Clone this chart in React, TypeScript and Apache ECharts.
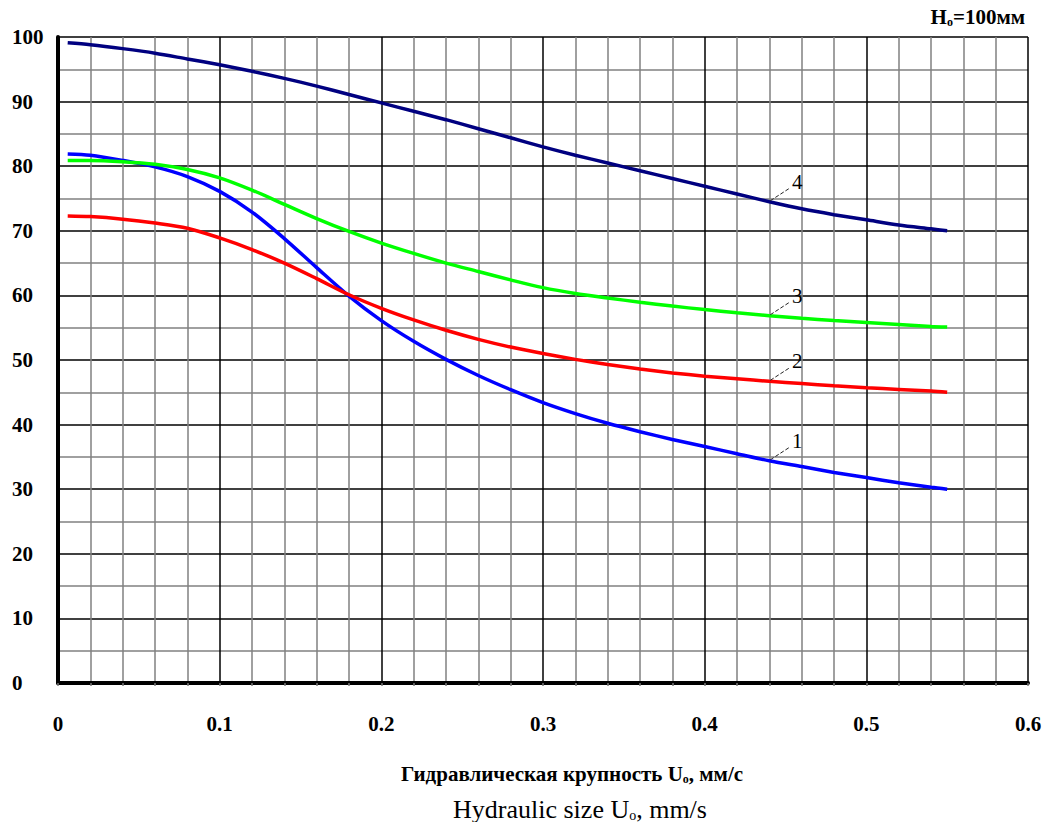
import React, { useEffect, useRef } from "react";
import * as echarts from "echarts";

// Hydraulic size U0, mm/s
const xValues = [
  0.006, 0.02, 0.04, 0.06, 0.08, 0.1, 0.12, 0.14, 0.16, 0.18, 0.2, 0.22, 0.24, 0.26, 0.28,
  0.3, 0.32, 0.34, 0.36, 0.38, 0.4, 0.42, 0.44, 0.46, 0.48, 0.5, 0.52, 0.54, 0.55,
];
// curve 1 (blue)
const curve1 = [
  81.9, 81.7, 80.9, 79.9, 78.4, 76.1, 72.9, 68.8, 64.3, 59.9, 56.1, 52.9, 50.1, 47.6, 45.4,
  43.4, 41.7, 40.2, 38.9, 37.7, 36.6, 35.5, 34.4, 33.5, 32.6, 31.8, 31.0, 30.3, 30.0,
];
// curve 2 (red)
const curve2 = [
  72.3, 72.2, 71.8, 71.2, 70.4, 68.9, 67.1, 65.0, 62.6, 60.1, 58.0, 56.2, 54.6, 53.2, 52.0,
  51.0, 50.1, 49.3, 48.6, 48.0, 47.5, 47.1, 46.7, 46.35, 46.0, 45.7, 45.45, 45.2, 45.0,
];
// curve 3 (green)
const curve3 = [
  80.9, 80.9, 80.7, 80.3, 79.5, 78.2, 76.3, 74.1, 71.9, 69.9, 68.1, 66.5, 65.0, 63.7, 62.4,
  61.2, 60.3, 59.6, 58.95, 58.35, 57.8, 57.3, 56.85, 56.45, 56.1, 55.8, 55.5, 55.2, 55.1,
];
// curve 4 (navy)
const curve4 = [
  99.1, 98.8, 98.2, 97.5, 96.6, 95.7, 94.7, 93.6, 92.4, 91.1, 89.8, 88.5, 87.2, 85.8, 84.4,
  83.0, 81.7, 80.5, 79.3, 78.1, 76.9, 75.7, 74.5, 73.4, 72.5, 71.7, 70.9, 70.3, 70.0,
];
const curves = [curve1, curve2, curve3, curve4];
const curveNames = ["1", "2", "3", "4"];
const curveColors = ["#0000FF", "#FF0000", "#00FF00", "#000080"];
const labelAtX = 0.44;

const titleRuMain = "Гидравлическая крупность U";
const titleRuSub = "о";
const titleRuTail = ", мм/с";
const titleEnMain = "Hydraulic size U";
const titleEnSub = "o";
const titleEnTail = ", mm/s";
const noteMain = "H";
const noteSub = "о";
const noteTail = "=100мм";

const FONT = "'Liberation Serif', 'Times New Roman', serif";

export default function App() {
  const ref = useRef<HTMLDivElement>(null);

  useEffect(() => {
    if (!ref.current) return;
    const chart = echarts.init(ref.current, null, { renderer: "svg" });

    const series = curves.map((vals, i) => ({
      type: "line",
      name: curveNames[i],
      data: xValues.map((x, j) => [x, vals[j]]),
      smooth: 0.3,
      showSymbol: false,
      symbol: "none",
      lineStyle: { color: curveColors[i], width: 3.5, cap: "butt" },
      itemStyle: { color: curveColors[i] },
      z: 3 + i,
    }));

    chart.setOption({
      animation: false,
      backgroundColor: "#ffffff",
      grid: { left: 58, top: 37, right: 19, bottom: 139, containLabel: false },
      xAxis: {
        type: "value",
        min: 0,
        max: 0.6,
        interval: 0.1,
        axisLine: { show: true, onZero: false, lineStyle: { color: "#000", width: 4 } },
        axisTick: { show: true, length: 3, lineStyle: { color: "#777", width: 1.5 } },
        minorTick: { show: true, splitNumber: 5, length: 3, lineStyle: { color: "#777", width: 1.5 } },
        splitLine: { show: true, lineStyle: { color: "#000", width: 1.5 } },
        minorSplitLine: { show: true, lineStyle: { color: "#808080", width: 1.5 } },
        axisLabel: { margin: 30, fontFamily: FONT, fontSize: 21, fontWeight: "bold", color: "#000" },
      },
      yAxis: {
        type: "value",
        min: 0,
        max: 100,
        interval: 10,
        axisLine: { show: true, onZero: false, lineStyle: { color: "#000", width: 4 } },
        axisTick: { show: false },
        minorTick: { show: false, splitNumber: 2 },
        splitLine: { show: true, lineStyle: { color: "#000", width: 1.5 } },
        minorSplitLine: { show: true, lineStyle: { color: "#808080", width: 1.5 } },
        axisLabel: {
          margin: 46,
          align: "left",
          fontFamily: FONT,
          fontSize: 21,
          fontWeight: "bold",
          color: "#000",
        },
      },
      series,
    });

    const idx = xValues.indexOf(labelAtX);
    const leaders: any[] = [];
    curves.forEach((vals, i) => {
      const p = chart.convertToPixel({ gridIndex: 0 }, [labelAtX, vals[idx]]) as number[];
      const px = p[0];
      const py = p[1];
      leaders.push({
        type: "line",
        shape: { x1: px + 1, y1: py - 1, x2: px + 21, y2: py - 14 },
        style: { stroke: "#222", lineWidth: 1, lineDash: [4, 2] },
        z: 20,
      });
      leaders.push({
        type: "text",
        x: px + 28,
        y: py - 20,
        style: {
          text: curveNames[i],
          fontFamily: FONT,
          fontSize: 21,
          fill: "#000",
          align: "center",
          verticalAlign: "middle",
          textAlign: "center",
          textVerticalAlign: "middle",
        },
        z: 20,
      });
    });

    const subRich = (size: number, weight: string) => ({
      n: {
        fontFamily: FONT,
        fontSize: size,
        fontWeight: weight,
        lineHeight: size + 4,
        verticalAlign: "bottom",
        fill: "#000",
      },
      s: {
        fontFamily: FONT,
        fontSize: Math.round(size * 0.55),
        fontWeight: weight,
        lineHeight: 10,
        verticalAlign: "bottom",
        fill: "#000",
      },
    });

    const richText = (main: string, sub: string, tail: string) =>
      "{n|" + main + "}{s|" + sub + "}{n|" + tail + "}";

    chart.setOption({
      graphic: [
        {
          type: "text",
          x: 1025,
          y: 15,
          style: {
            text: richText(noteMain, noteSub, noteTail),
            rich: subRich(21, "bold"),
            align: "right",
            verticalAlign: "middle",
            textAlign: "right",
            textVerticalAlign: "middle",
          },
          z: 30,
        },
        {
          type: "text",
          x: 572,
          y: 772,
          style: {
            text: richText(titleRuMain, titleRuSub, titleRuTail),
            rich: subRich(21, "bold"),
            align: "center",
            verticalAlign: "middle",
            textAlign: "center",
            textVerticalAlign: "middle",
          },
          z: 30,
        },
        {
          type: "text",
          x: 580,
          y: 807,
          style: {
            text: richText(titleEnMain, titleEnSub, titleEnTail),
            rich: subRich(26, "normal"),
            align: "center",
            verticalAlign: "middle",
            textAlign: "center",
            textVerticalAlign: "middle",
          },
          z: 30,
        },
        ...leaders,
      ],
    });

    return () => chart.dispose();
  }, []);

  return (
    <div
      ref={ref}
      style={{ position: "fixed", left: 0, top: 0, width: 1047, height: 822, background: "#fff" }}
    />
  );
}
